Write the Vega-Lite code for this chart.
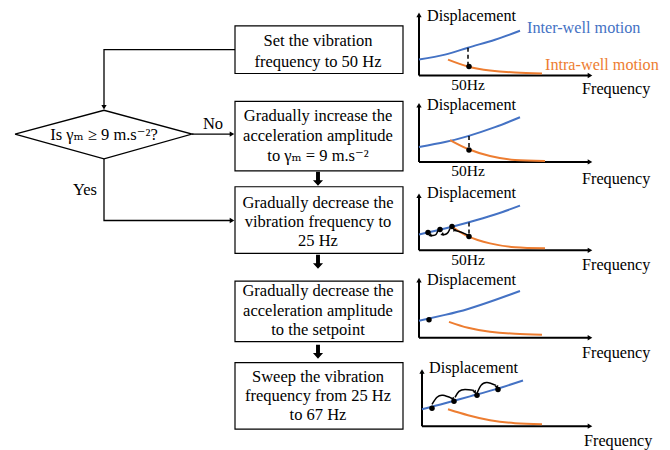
{
  "$schema": "https://vega.github.io/schema/vega-lite/v6.json",
  "width": 670,
  "height": 450,
  "autosize": {"type": "fit", "contains": "padding"},
  "padding": 0,
  "background": "white",
  "config": {"view": {"stroke": null}, "axis": {"disable": true}, "font": "Times New Roman, Liberation Serif, DejaVu Serif, serif"},
  "datasets": {
    "boxes": [
      {"b": 1, "x": 235, "x2": 403, "y": 26, "y2": 74},
      {"b": 2, "x": 235, "x2": 403, "y": 102, "y2": 172},
      {"b": 3, "x": 235, "x2": 403, "y": 188, "y2": 255},
      {"b": 4, "x": 235, "x2": 403, "y": 283, "y2": 344},
      {"b": 5, "x": 235, "x2": 403, "y": 365, "y2": 432}
    ],
    "boxtext": [
      {"t": "Set the vibration", "x": 318, "y": 41},
      {"t": "frequency to 50 Hz", "x": 318, "y": 62},
      {"t": "Gradually increase the", "x": 318, "y": 117},
      {"t": "acceleration amplitude", "x": 318, "y": 137},
      {"t": "to γₘ = 9 m.s⁻²", "x": 318, "y": 157},
      {"t": "Gradually decrease the", "x": 318, "y": 204},
      {"t": "vibration frequency to", "x": 318, "y": 223},
      {"t": "25 Hz", "x": 318, "y": 243},
      {"t": "Gradually decrease the", "x": 318, "y": 293},
      {"t": "acceleration amplitude", "x": 318, "y": 313},
      {"t": "to the setpoint", "x": 318, "y": 332},
      {"t": "Sweep the vibration", "x": 318, "y": 380},
      {"t": "frequency from 25 Hz", "x": 318, "y": 399},
      {"t": "to 67 Hz", "x": 318, "y": 418},
      {"t": "Is γₘ ≥ 9 m.s⁻²?", "x": 104, "y": 136},
      {"t": "No", "x": 213, "y": 125},
      {"t": "Yes", "x": 85, "y": 191}
    ],
    "labels": [
      {"t": "Displacement", "x": 427, "y": 16, "s": "none"},
      {"t": "Displacement", "x": 427, "y": 106, "s": "none"},
      {"t": "Displacement", "x": 427, "y": 194, "s": "none"},
      {"t": "Displacement", "x": 427, "y": 282, "s": "none"},
      {"t": "Displacement", "x": 429, "y": 370, "s": "none"},
      {"t": "Frequency", "x": 582, "y": 90, "s": "none"},
      {"t": "Frequency", "x": 582, "y": 180, "s": "none"},
      {"t": "Frequency", "x": 582, "y": 267, "s": "none"},
      {"t": "Frequency", "x": 582, "y": 355, "s": "none"},
      {"t": "Frequency", "x": 584, "y": 444, "s": "none"},
      {"t": "Inter-well motion", "x": 527, "y": 28, "s": "inter"},
      {"t": "Intra-well motion", "x": 545, "y": 65, "s": "intra"}
    ],
    "hz": [
      {"t": "50Hz", "x": 468, "y": 86},
      {"t": "50Hz", "x": 468, "y": 172},
      {"t": "50Hz", "x": 468, "y": 262}
    ],
    "conn": [
      {"g": "c1", "o": 0, "x": 235, "y": 50},
      {"g": "c1", "o": 1, "x": 104, "y": 50},
      {"g": "c1", "o": 2, "x": 104, "y": 107},
      {"g": "c2", "o": 0, "x": 192, "y": 135},
      {"g": "c2", "o": 1, "x": 231, "y": 135},
      {"g": "c3", "o": 0, "x": 104, "y": 160},
      {"g": "c3", "o": 1, "x": 104, "y": 222},
      {"g": "c3", "o": 2, "x": 231, "y": 222},
      {"g": "d", "o": 0, "x": 15, "y": 135},
      {"g": "d", "o": 1, "x": 104, "y": 111},
      {"g": "d", "o": 2, "x": 192, "y": 135},
      {"g": "d", "o": 3, "x": 104, "y": 160},
      {"g": "d", "o": 4, "x": 15, "y": 135}
    ],
    "axes": [
      {"g": "a1y", "o": 0, "x": 419, "y": 76}, {"g": "a1y", "o": 1, "x": 419, "y": 16},
      {"g": "a1x", "o": 0, "x": 419, "y": 76}, {"g": "a1x", "o": 1, "x": 589, "y": 76},
      {"g": "a2y", "o": 0, "x": 419, "y": 163}, {"g": "a2y", "o": 1, "x": 419, "y": 107},
      {"g": "a2x", "o": 0, "x": 419, "y": 163}, {"g": "a2x", "o": 1, "x": 589, "y": 163},
      {"g": "a3y", "o": 0, "x": 419, "y": 252}, {"g": "a3y", "o": 1, "x": 419, "y": 198},
      {"g": "a3x", "o": 0, "x": 419, "y": 252}, {"g": "a3x", "o": 1, "x": 589, "y": 252},
      {"g": "a4y", "o": 0, "x": 419, "y": 340}, {"g": "a4y", "o": 1, "x": 419, "y": 283},
      {"g": "a4x", "o": 0, "x": 419, "y": 340}, {"g": "a4x", "o": 1, "x": 589, "y": 340},
      {"g": "a5y", "o": 0, "x": 422, "y": 429}, {"g": "a5y", "o": 1, "x": 422, "y": 375},
      {"g": "a5x", "o": 0, "x": 422, "y": 429}, {"g": "a5x", "o": 1, "x": 589, "y": 429}
    ],
    "bigarrows": [
      {"x": 318, "y": 180},
      {"x": 318, "y": 263.5},
      {"x": 318, "y": 354}
    ],
    "heads": [
      {"x": 104, "y": 108, "a": 180, "k": "small"},
      {"x": 232, "y": 135, "a": 90, "k": "small"},
      {"x": 232, "y": 222, "a": 90, "k": "small"},
      {"x": 419, "y": 15, "a": 0, "k": "small"},
      {"x": 590, "y": 76, "a": 90, "k": "small"},
      {"x": 419, "y": 106, "a": 0, "k": "small"},
      {"x": 590, "y": 163, "a": 90, "k": "small"},
      {"x": 419, "y": 197, "a": 0, "k": "small"},
      {"x": 590, "y": 252, "a": 90, "k": "small"},
      {"x": 419, "y": 282, "a": 0, "k": "small"},
      {"x": 590, "y": 340, "a": 90, "k": "small"},
      {"x": 422, "y": 374, "a": 0, "k": "small"},
      {"x": 590, "y": 429, "a": 90, "k": "small"},
      {"x": 453, "y": 402, "a": 150, "k": "tiny"},
      {"x": 475, "y": 395, "a": 150, "k": "tiny"},
      {"x": 497, "y": 390, "a": 160, "k": "tiny"},
      {"x": 430, "y": 237, "a": 250, "k": "tiny"},
      {"x": 442, "y": 236, "a": 250, "k": "tiny"},
      {"x": 454, "y": 231, "a": 320, "k": "tiny"}
    ],
    "curves": [
      {"g": "b1", "s": "inter", "o": 0, "x": 419, "y": 60},
      {"g": "b1", "s": "inter", "o": 1, "x": 445, "y": 55},
      {"g": "b1", "s": "inter", "o": 2, "x": 468, "y": 48},
      {"g": "b1", "s": "inter", "o": 3, "x": 495, "y": 40},
      {"g": "b1", "s": "inter", "o": 4, "x": 520, "y": 31},
      {"g": "r1", "s": "intra", "o": 0, "x": 448, "y": 60},
      {"g": "r1", "s": "intra", "o": 1, "x": 468, "y": 67},
      {"g": "r1", "s": "intra", "o": 2, "x": 490, "y": 71},
      {"g": "r1", "s": "intra", "o": 3, "x": 515, "y": 73},
      {"g": "r1", "s": "intra", "o": 4, "x": 542, "y": 74},
      {"g": "b2", "s": "inter", "o": 0, "x": 419, "y": 148},
      {"g": "b2", "s": "inter", "o": 1, "x": 445, "y": 143},
      {"g": "b2", "s": "inter", "o": 2, "x": 468, "y": 137},
      {"g": "b2", "s": "inter", "o": 3, "x": 495, "y": 128},
      {"g": "b2", "s": "inter", "o": 4, "x": 520, "y": 118},
      {"g": "r2", "s": "intra", "o": 0, "x": 450, "y": 141},
      {"g": "r2", "s": "intra", "o": 1, "x": 468, "y": 150},
      {"g": "r2", "s": "intra", "o": 2, "x": 490, "y": 157},
      {"g": "r2", "s": "intra", "o": 3, "x": 515, "y": 161},
      {"g": "r2", "s": "intra", "o": 4, "x": 545, "y": 162},
      {"g": "b3", "s": "inter", "o": 0, "x": 419, "y": 236},
      {"g": "b3", "s": "inter", "o": 1, "x": 445, "y": 230},
      {"g": "b3", "s": "inter", "o": 2, "x": 468, "y": 224},
      {"g": "b3", "s": "inter", "o": 3, "x": 495, "y": 216},
      {"g": "b3", "s": "inter", "o": 4, "x": 520, "y": 207},
      {"g": "r3", "s": "intra", "o": 0, "x": 452, "y": 228},
      {"g": "r3", "s": "intra", "o": 1, "x": 468, "y": 238},
      {"g": "r3", "s": "intra", "o": 2, "x": 490, "y": 245},
      {"g": "r3", "s": "intra", "o": 3, "x": 515, "y": 249},
      {"g": "r3", "s": "intra", "o": 4, "x": 545, "y": 250},
      {"g": "b4", "s": "inter", "o": 0, "x": 419, "y": 323},
      {"g": "b4", "s": "inter", "o": 1, "x": 445, "y": 317},
      {"g": "b4", "s": "inter", "o": 2, "x": 468, "y": 311},
      {"g": "b4", "s": "inter", "o": 3, "x": 495, "y": 302},
      {"g": "b4", "s": "inter", "o": 4, "x": 520, "y": 293},
      {"g": "r4", "s": "intra", "o": 0, "x": 449, "y": 324},
      {"g": "r4", "s": "intra", "o": 1, "x": 468, "y": 330},
      {"g": "r4", "s": "intra", "o": 2, "x": 490, "y": 334},
      {"g": "r4", "s": "intra", "o": 3, "x": 515, "y": 336},
      {"g": "r4", "s": "intra", "o": 4, "x": 542, "y": 337},
      {"g": "b5", "s": "inter", "o": 0, "x": 422, "y": 412},
      {"g": "b5", "s": "inter", "o": 1, "x": 445, "y": 406},
      {"g": "b5", "s": "inter", "o": 2, "x": 470, "y": 399},
      {"g": "b5", "s": "inter", "o": 3, "x": 495, "y": 392},
      {"g": "b5", "s": "inter", "o": 4, "x": 523, "y": 383},
      {"g": "r5", "s": "intra", "o": 0, "x": 448, "y": 412},
      {"g": "r5", "s": "intra", "o": 1, "x": 468, "y": 418},
      {"g": "r5", "s": "intra", "o": 2, "x": 490, "y": 423},
      {"g": "r5", "s": "intra", "o": 3, "x": 515, "y": 426},
      {"g": "r5", "s": "intra", "o": 4, "x": 542, "y": 427}
    ],
    "arcs": [
      {"g": "e1", "o": 0, "x": 432, "y": 407}, {"g": "e1", "o": 1, "x": 437, "y": 400}, {"g": "e1", "o": 2, "x": 443, "y": 398}, {"g": "e1", "o": 3, "x": 452, "y": 401},
      {"g": "e2", "o": 0, "x": 455, "y": 400}, {"g": "e2", "o": 1, "x": 459, "y": 394}, {"g": "e2", "o": 2, "x": 465, "y": 392}, {"g": "e2", "o": 3, "x": 474, "y": 393},
      {"g": "e3", "o": 0, "x": 477, "y": 396}, {"g": "e3", "o": 1, "x": 481, "y": 388}, {"g": "e3", "o": 2, "x": 487, "y": 385}, {"g": "e3", "o": 3, "x": 496, "y": 388},
      {"g": "f1", "o": 0, "x": 468, "y": 237}, {"g": "f1", "o": 1, "x": 464, "y": 235}, {"g": "f1", "o": 2, "x": 459, "y": 233}, {"g": "f1", "o": 3, "x": 455, "y": 232},
      {"g": "f2", "o": 0, "x": 450, "y": 230}, {"g": "f2", "o": 1, "x": 448, "y": 234}, {"g": "f2", "o": 2, "x": 445, "y": 236}, {"g": "f2", "o": 3, "x": 442, "y": 236},
      {"g": "f3", "o": 0, "x": 438, "y": 232}, {"g": "f3", "o": 1, "x": 436, "y": 236}, {"g": "f3", "o": 2, "x": 433, "y": 237}, {"g": "f3", "o": 3, "x": 430, "y": 237}
    ],
    "dashes": [
      {"g": "d1", "x": 468, "y": 48}, {"g": "d1", "x": 468, "y": 67},
      {"g": "d2", "x": 469, "y": 137}, {"g": "d2", "x": 469, "y": 151},
      {"g": "d3", "x": 469, "y": 224}, {"g": "d3", "x": 469, "y": 238}
    ],
    "dots": [
      {"x": 469, "y": 67}, {"x": 469, "y": 151},
      {"x": 428, "y": 234}, {"x": 440, "y": 231}, {"x": 452, "y": 228}, {"x": 469, "y": 238},
      {"x": 429, "y": 322},
      {"x": 432, "y": 411}, {"x": 454, "y": 404}, {"x": 477, "y": 398}, {"x": 498, "y": 392}
    ]
  },
  "encoding": {
    "x": {"field": "x", "type": "quantitative", "scale": {"domain": [0, 670], "nice": false, "zero": false}, "axis": null},
    "y": {"field": "y", "type": "quantitative", "scale": {"domain": [0, 450], "nice": false, "zero": false, "reverse": true}, "axis": null}
  },
  "layer": [
    {
      "data": {"name": "boxes"},
      "mark": {"type": "rect", "fill": "white", "stroke": "black", "strokeWidth": 1.2},
      "encoding": {"x2": {"field": "x2"}, "y2": {"field": "y2"}}
    },
    {
      "data": {"name": "conn"},
      "mark": {"type": "line", "color": "black", "strokeWidth": 1.3},
      "encoding": {"detail": {"field": "g"}, "order": {"field": "o"}}
    },
    {
      "data": {"name": "axes"},
      "mark": {"type": "line", "color": "black", "strokeWidth": 2},
      "encoding": {"detail": {"field": "g"}, "order": {"field": "o"}}
    },
    {
      "data": {"name": "bigarrows"},
      "mark": {"type": "point", "shape": "M-0.28,-1L0.28,-1L0.28,0.2L0.72,0.2L0,1L-0.72,0.2L-0.28,0.2Z", "filled": true, "color": "black", "opacity": 1, "size": 196, "strokeWidth": 0}
    },
    {
      "data": {"name": "curves"},
      "mark": {"type": "line", "strokeWidth": 2, "interpolate": "natural"},
      "encoding": {
        "detail": {"field": "g"},
        "order": {"field": "o"},
        "color": {"field": "s", "type": "nominal", "scale": {"domain": ["inter", "intra", "none"], "range": ["#4472C4", "#ED7D31", "#000000"]}, "legend": null}
      }
    },
    {
      "data": {"name": "dashes"},
      "mark": {"type": "line", "color": "black", "strokeWidth": 1.5, "strokeDash": [4, 3]},
      "encoding": {"detail": {"field": "g"}}
    },
    {
      "data": {"name": "arcs"},
      "mark": {"type": "line", "color": "black", "strokeWidth": 1.5, "interpolate": "natural"},
      "encoding": {"detail": {"field": "g"}, "order": {"field": "o"}}
    },
    {
      "data": {"name": "dots"},
      "mark": {"type": "point", "shape": "circle", "filled": true, "color": "black", "size": 30, "opacity": 1}
    },
    {
      "data": {"name": "heads"},
      "mark": {"type": "point", "shape": "triangle-up", "filled": true, "color": "black", "opacity": 1},
      "encoding": {
        "angle": {"field": "a", "type": "quantitative", "scale": null},
        "size": {"field": "k", "type": "nominal", "scale": {"domain": ["tiny", "small"], "range": [16, 28]}, "legend": null}
      }
    },
    {
      "data": {"name": "boxtext"},
      "mark": {"type": "text", "fontSize": 16.5, "color": "black", "align": "center", "baseline": "middle"},
      "encoding": {"text": {"field": "t"}}
    },
    {
      "data": {"name": "labels"},
      "mark": {"type": "text", "fontSize": 16.2, "align": "left", "baseline": "middle"},
      "encoding": {
        "text": {"field": "t"},
        "color": {"field": "s", "type": "nominal", "scale": {"domain": ["inter", "intra", "none"], "range": ["#4472C4", "#ED7D31", "#000000"]}, "legend": null}
      }
    },
    {
      "data": {"name": "hz"},
      "mark": {"type": "text", "fontSize": 15.5, "color": "black", "align": "center", "baseline": "middle"},
      "encoding": {"text": {"field": "t"}}
    }
  ]
}
